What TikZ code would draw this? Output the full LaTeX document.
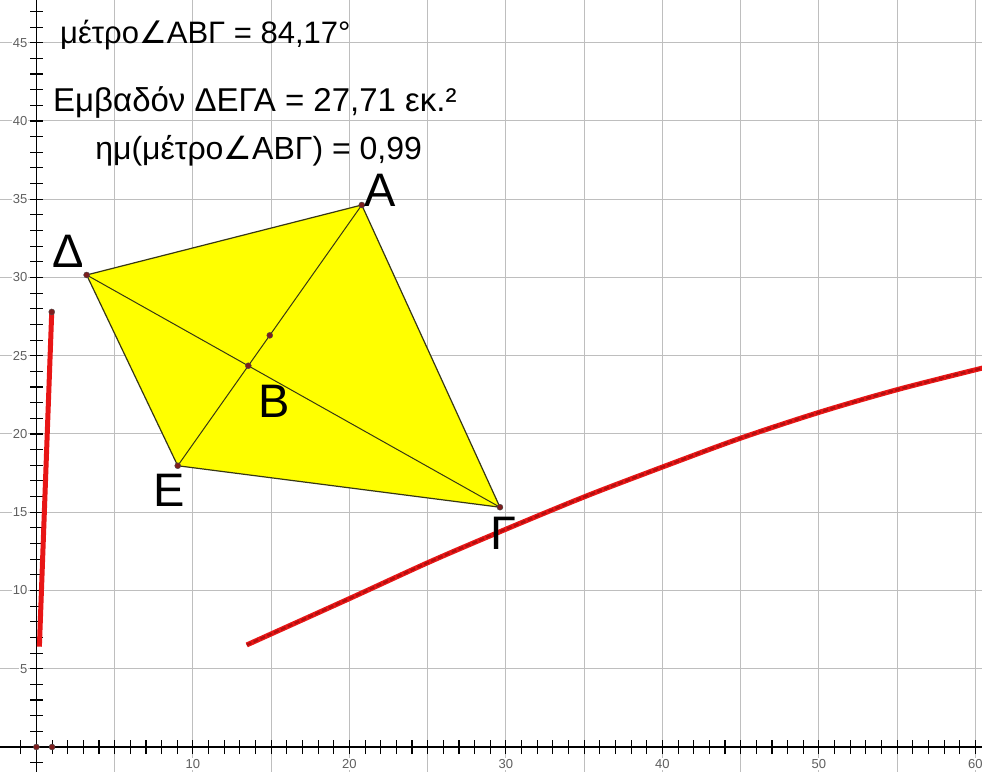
\documentclass[tikz,border=0pt]{standalone}
\usepackage{fontspec}
\setmainfont{Liberation Sans}
\newfontfamily\dvs{DejaVu Sans}
\usetikzlibrary{calc}
\definecolor{gridgray}{RGB}{190,190,190}
\definecolor{axgray}{RGB}{95,95,95}
\definecolor{edgec}{RGB}{55,55,20}
\definecolor{dotc}{RGB}{125,30,30}
\definecolor{locred}{RGB}{232,22,22}
\definecolor{locdark}{RGB}{175,15,15}
\definecolor{fillyel}{RGB}{255,255,0}
\begin{document}
\begin{tikzpicture}[x=15.65pt,y=15.65pt,
  gridline/.style={draw=gridgray,line width=1pt},
  axisline/.style={draw=black,line width=1.4pt},
  axlabel/.style={text=axgray,font=\fontsize{13}{13}\selectfont,inner sep=1pt,fill=white},
  edge/.style={draw=edgec,line width=1.2pt},
  ptlabel/.style={inner sep=0pt,font=\fontsize{47}{47}\selectfont},
  infotext/.style={inner sep=0pt,anchor=base west,font=\fontsize{33}{33}\selectfont},
  locus/.style={draw=locred,line width=5pt,line cap=round},
  locusdash/.style={draw=locdark,line width=2.2pt,dash pattern=on 5pt off 2.5pt},
  pdot/.style={fill=dotc,draw=black!70,line width=0.4pt}]
\useasboundingbox (-2.326,-1.597) rectangle (60.42,47.73);
\fill[white] (-2.326,-1.597) rectangle (60.42,47.73);
% grid
\foreach \x in {5,10,...,60} \draw[gridline] (\x,-1.597) -- (\x,47.73);
\foreach \y in {5,10,...,45} \draw[gridline] (-2.326,\y) -- (60.42,\y);
% axes
\draw[axisline] (-2.326,0) -- (60.42,0);
\draw[axisline] (0,-1.597) -- (0,47.73);
\foreach \x in {-1,...,60} \draw[axisline,line width=1.1pt] (\x,-0.45) -- (\x,0.45);
\foreach \y in {-1,...,47} \draw[axisline,line width=1.1pt] (-0.4,\y) -- (0.4,\y);
\foreach \x in {10,20,...,60} \node[axlabel] (xl\x) at (\x,-1.09) {\x};
\foreach \y in {5,10,...,45} \node[axlabel,anchor=east] (yl\y) at (-0.5,\y) {\y};
% points
\coordinate (A) at (20.79,34.63);
\coordinate (D) at (3.21,30.16);
\coordinate (E) at (9.03,17.97);
\coordinate (G) at (29.62,15.32);
\coordinate (B) at (intersection of D--G and E--A);
\coordinate (M) at ($(E)!0.5!(A)$);
% quadrilateral
\path[fill=fillyel,edge] (D) -- (A) -- (G) -- (E) -- cycle;
\draw[edge,line width=1pt] (D) -- (G);
\draw[edge,line width=1pt] (E) -- (A);
% loci
\coordinate (L1) at (0.19,6.41);
\coordinate (L2) at (0.98,27.8);
\draw[locus,line cap=butt] (L1) -- (L2);
\draw[locus,line cap=butt] plot[smooth] coordinates {(13.44,6.52) (20.04,9.50) (25.15,11.84) (29.63,13.76) (35.05,16.0) (40.06,17.91) (44.96,19.72) (50.07,21.40) (55.07,22.85) (60.6,24.25)};
\draw[locusdash] plot[smooth] coordinates {(13.44,6.52) (20.04,9.50) (25.15,11.84) (29.63,13.76) (35.05,16.0) (40.06,17.91) (44.96,19.72) (50.07,21.40) (55.07,22.85) (60.6,24.25)};
% dots
\foreach \p in {A,D,E,G,B,M,L2} \path[pdot] (\p) circle (3pt);
\path[pdot] (0,0) circle (3pt);
\path[pdot] (1,0) circle (3pt);
% labels
\node[ptlabel] (lA) at (21.96,35.59) {Α};
\node[ptlabel] (lD) at (2.02,31.69) {Δ};
\node[ptlabel] (lE) at (8.47,16.42) {Ε};
\node[ptlabel] (lG) at (29.81,13.67) {Γ};
\node[ptlabel] (lB) at (15.18,22.11) {Β};
% info texts
\node[infotext,font=\fontsize{31}{31}\selectfont] (t1) at (1.51,44.98) {μέτρο{\dvs ∠}ΑΒΓ = 84,17°};
\node[infotext] (t2) at (1.06,40.58) {Εμβαδόν ΔΕΓΑ = 27,71 εκ.²};
\node[infotext,font=\fontsize{32}{32}\selectfont] (t3) at (3.75,37.51) {ημ(μέτρο{\dvs ∠}ΑΒΓ) = 0,99};
\end{tikzpicture}
\end{document}
